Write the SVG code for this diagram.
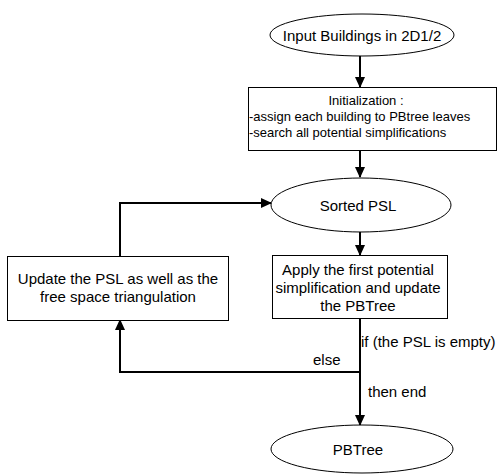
<svg xmlns="http://www.w3.org/2000/svg" width="500" height="474" viewBox="0 0 500 474">
<defs>
<marker id="ah" markerWidth="11" markerHeight="12" refX="11" refY="5.5" orient="auto" markerUnits="userSpaceOnUse" viewBox="0 0 12 11">
<path d="M0,0 L12,5.5 L0,11 Z" fill="#000"/>
</marker>
<style>
.n{fill:#fff;stroke:#000;stroke-width:1}
.t{font-family:"Liberation Sans",Arial,sans-serif;font-size:15px;fill:#000}
.s{font-family:"Liberation Sans",Arial,sans-serif;font-size:13px;fill:#000}
.c{fill:none;stroke:#000;stroke-width:2}
</style>
</defs>
<rect width="500" height="474" fill="#fff"/>
<g id="connectors">
<line class="c" x1="360" y1="56" x2="360" y2="87" marker-end="url(#ah)"/>
<line class="c" x1="360" y1="151" x2="360" y2="177" marker-end="url(#ah)"/>
<line class="c" x1="360" y1="232" x2="360" y2="255" marker-end="url(#ah)"/>
<line class="c" x1="360" y1="318" x2="360" y2="425" marker-end="url(#ah)"/>
<polyline class="c" points="360,372 120,372 120,320" marker-end="url(#ah)"/>
<polyline class="c" points="120,256 120,203 271,203" marker-end="url(#ah)"/>
<text class="t" x="361" y="347">if (the PSL is empty)</text>
<text class="t" x="313" y="365">else</text>
<text class="t" x="368" y="397">then end</text>
</g>
<g id="input">
<ellipse class="n" cx="362" cy="35" rx="92" ry="21"/>
<text class="t" x="362" y="41" text-anchor="middle">Input Buildings in 2D1/2</text>
</g>
<g id="init">
<rect class="n" x="248.5" y="87.5" width="248" height="63"/>
<text class="s" x="366" y="105" text-anchor="middle">Initialization :</text>
<text class="s" x="249" y="121">-assign each building to PBtree leaves</text>
<text class="s" x="249" y="137">-search all potential simplifications</text>
</g>
<g id="sorted">
<ellipse class="n" cx="361" cy="205" rx="90" ry="27"/>
<text class="t" x="358" y="211" text-anchor="middle">Sorted PSL</text>
</g>
<g id="apply">
<rect class="n" x="272.5" y="255.5" width="175" height="63"/>
<text class="t" x="358" y="275" text-anchor="middle">Apply the first potential</text>
<text class="t" x="358" y="293" text-anchor="middle">simplification and update</text>
<text class="t" x="358" y="311" text-anchor="middle">the PBTree</text>
</g>
<g id="update">
<rect class="n" x="7.5" y="256.5" width="221" height="64"/>
<text class="t" x="118" y="284" text-anchor="middle">Update the PSL as well as the</text>
<text class="t" x="118" y="302" text-anchor="middle">free space triangulation</text>
</g>
<g id="pbtree">
<ellipse class="n" cx="362" cy="449" rx="91" ry="24"/>
<text class="t" x="358" y="455" text-anchor="middle">PBTree</text>
</g>
</svg>
